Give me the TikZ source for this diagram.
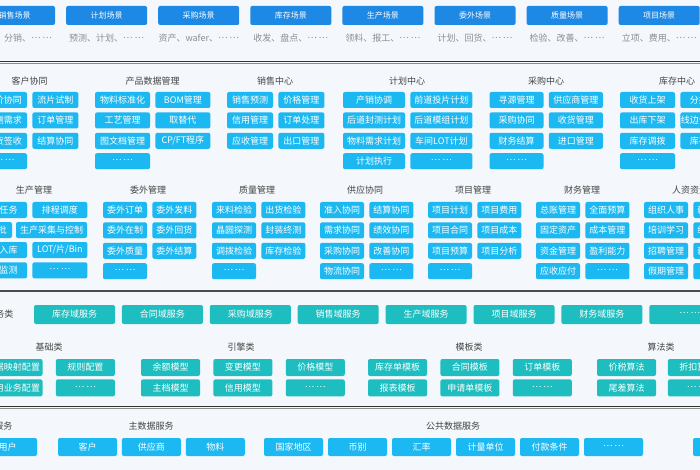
\documentclass[tikz,border=0pt]{standalone}
\usepackage{fontspec}
\setmainfont{Noto Sans CJK SC}
\usetikzlibrary{positioning}
\definecolor{bgcol}{HTML}{F4F7FB}
\definecolor{scenecol}{HTML}{1E88E5}
\definecolor{cellcol}{HTML}{1CB8F2}
\definecolor{svccol}{HTML}{1DBDC0}
\definecolor{titlecol}{HTML}{444444}
\definecolor{notecol}{HTML}{8A8F96}
\newcommand{\ellip}{\raisebox{0.3em}{…\hspace{0.2em}…}}

\begin{document}
\begin{tikzpicture}[
            x=1pt, y=-1pt,
            box/.style={
                rectangle,
                rounded corners=2pt,
                inner sep=0pt,
                text=white,
                font=\fontsize{9}{10}\selectfont
            },
            scene/.style={
                box,
                fill=scenecol,
                minimum width=81pt,
                minimum height=19pt,
                font=\fontsize{8}{9}\selectfont
            },
            cell/.style={
                box,
                fill=cellcol,
                minimum width=46pt,
                minimum height=16pt
            },
            svc/.style={
                box,
                fill=svccol,
                minimum width=81pt,
                minimum height=19pt
            },
            part/.style={
                box,
                fill=svccol,
                minimum width=59pt,
                minimum height=17pt
            },
            base/.style={
                box,
                fill=cellcol,
                minimum width=59pt,
                minimum height=18pt
            },
            title/.style={inner sep=0pt, text=titlecol, font=\fontsize{9}{10}\selectfont},
            note/.style={inner sep=0pt, text=notecol, font=\fontsize{9}{10}\selectfont},
            sep/.style={line width=1.2pt, black!80},
            node distance=4pt and 5pt,
        ]

            \useasboundingbox (0,0) rectangle (700,470);
            \clip (0,0) rectangle (700,470);
            \fill[bgcol] (0,0) rectangle (700,470);

            % scenes
            \node[scene] (sSales) at (14.5,15.5) {销售场景};
            \node[scene, right=10.7pt of sSales] (sPlan) {计划场景};
            \node[scene, right=10.7pt of sPlan] (sBuy) {采购场景};
            \node[scene, right=10.7pt of sBuy] (sStock) {库存场景};
            \node[scene, right=10.7pt of sStock] (sProd) {生产场景};
            \node[scene, right=10.7pt of sProd] (sOut) {委外场景};
            \node[scene, right=10.7pt of sOut] (sQual) {质量场景};
            \node[scene, right=10.7pt of sQual] (sProj) {项目场景};

            \node[note, below=8.5pt of sSales] (nSales) {订单、分销、\ellip};
            \node[note, below=8.5pt of sPlan] (nPlan) {预测、计划、\ellip};
            \node[note, below=8.5pt of sBuy] (nBuy) {资产、wafer、\ellip};
            \node[note, below=8.5pt of sStock] (nStock) {收发、盘点、\ellip};
            \node[note, below=8.5pt of sProd] (nProd) {领料、报工、\ellip};
            \node[note, below=8.5pt of sOut] (nOut) {计划、回货、\ellip};
            \node[note, below=8.5pt of sQual] (nQual) {检验、改善、\ellip};
            \node[note, below=8.5pt of sProj] (nProj) {立项、费用、\ellip};

            \draw[sep] (0,61.5) -- (700,61.5);
            \draw[line width=0.6pt, black!45] (0,63.5) -- (700,63.5);

            % business centers
            \node[title] (tCust) at (29.5,81) {客户协同};
            \node[cell] (cu1) at (4,100) {询价协同};
            \node[cell, below=of cu1] (cu2) {预测需求};
            \node[cell, below=of cu2] (cu3) {到货签收};
            \node[cell, below=of cu3] (cu4) {\ellip};
            \node[cell, right=of cu1] (cu5) {流片试制};
            \node[cell, below=of cu5] (cu6) {订单管理};
            \node[cell, below=of cu6] (cu7) {结算协同};

            \begin{scope}[cell/.append style={minimum width=55pt}]
                \node[title] (tPdm) at (152.5,81) {产品数据管理};
                \node[cell] (pd1) at (122.5,100) {物料标准化};
                \node[cell, below=of pd1] (pd2) {工艺管理};
                \node[cell, below=of pd2] (pd3) {图文档管理};
                \node[cell, below=of pd3] (pd4) {\ellip};
                \node[cell, right=of pd1] (pd5) {BOM管理};
                \node[cell, below=of pd5] (pd6) {取替代};
                \node[cell, below=of pd6] (pd7) {CP/FT程序};
            \end{scope}

            \node[title] (tSale) at (275,81) {销售中心};
            \node[cell] (sa1) at (250,100) {销售预测};
            \node[cell, below=of sa1] (sa2) {信用管理};
            \node[cell, below=of sa2] (sa3) {应收管理};
            \node[cell, right=of sa1] (sa4) {价格管理};
            \node[cell, below=of sa4] (sa5) {订单处理};
            \node[cell, below=of sa5] (sa6) {出口管理};

            \begin{scope}[cell/.append style={minimum width=62pt}]
                \node[title] (tPlan) at (407,81) {计划中心};
                \node[cell] (pl1) at (374,100) {产销协调};
                \node[cell, below=of pl1] (pl2) {后道封测计划};
                \node[cell, below=of pl2] (pl3) {物料需求计划};
                \node[cell, below=of pl3] (pl4) {计划执行};
                \node[cell, right=of pl1] (pl5) {前道投片计划};
                \node[cell, below=of pl5] (pl6) {后道模组计划};
                \node[cell, below=of pl6] (pl7) {车间LOT计划};
                \node[cell, below=of pl7] (pl8) {\ellip};
            \end{scope}

            \begin{scope}[cell/.append style={minimum width=54pt}]
                \node[title] (tBuy) at (546,81) {采购中心};
                \node[cell] (bu1) at (516.5,100) {寻源管理};
                \node[cell, below=of bu1] (bu2) {采购协同};
                \node[cell, below=of bu2] (bu3) {财务结算};
                \node[cell, below=of bu3] (bu4) {\ellip};
                \node[cell, right=of bu1] (bu5) {供应商管理};
                \node[cell, below=of bu5] (bu6) {收货管理};
                \node[cell, below=of bu6] (bu7) {进口管理};
            \end{scope}

            \begin{scope}[cell/.append style={minimum width=55pt}]
                \node[title] (tStock) at (677,81) {库存中心};
                \node[cell] (st1) at (647.5,100) {收货上架};
                \node[cell, below=of st1] (st2) {出库下架};
                \node[cell, below=of st2] (st3) {库存调拨};
                \node[cell, below=of st3] (st4) {\ellip};
                \node[cell, right=of st1] (st5) {分拣管理};
                \node[cell, below=of st5] (st6) {线边仓库管理};
                \node[cell, below=of st6] (st7) {库存盘点};
            \end{scope}

            % management
            \begin{scope}[cell/.append style={minimum width=55pt}]
                \node[title] (tMake) at (34,190) {生产管理};
                \node[cell] (mk1) at (-0.5,210) {生产任务};
                \node[cell] (mk2) at (-15.5,230) {工单拆合批};
                \node[cell] (mk3) at (-0.5,250) {完工入库};
                \node[cell, below=of mk3] (mk4) {设备监测};
                \node[cell, right=of mk1] (mk5) {排程调度};
                \node[cell, minimum width=71pt] (mk6) at (51.5,230) {生产采集与控制};
                \node[cell, right=of mk3] (mk7) {LOT/片/Bin};
                \node[cell, below=of mk7] (mk8) {\ellip};
            \end{scope}

            \begin{scope}[cell/.append style={minimum width=44pt}]
                \node[title] (tOut) at (148,190) {委外管理};
                \node[cell] (ou1) at (125,210) {委外订单};
                \node[cell, below=of ou1] (ou2) {委外在制};
                \node[cell, below=of ou2] (ou3) {委外质量};
                \node[cell, below=of ou3] (ou4) {\ellip};
                \node[cell, right=of ou1] (ou5) {委外发料};
                \node[cell, below=of ou5] (ou6) {委外回货};
                \node[cell, below=of ou6] (ou7) {委外结算};

                \node[title] (tQual) at (257,190) {质量管理};
                \node[cell] (qu1) at (234,210) {来料检验};
                \node[cell, below=of qu1] (qu2) {晶圆探测};
                \node[cell, below=of qu2] (qu3) {调拨检验};
                \node[cell, below=of qu3] (qu4) {\ellip};
                \node[cell, right=of qu1] (qu5) {出货检验};
                \node[cell, below=of qu5] (qu6) {封装终测};
                \node[cell, below=of qu6] (qu7) {库存检验};

                \node[title] (tSup) at (365,190) {供应协同};
                \node[cell] (su1) at (342,210) {准入协同};
                \node[cell, below=of su1] (su2) {需求协同};
                \node[cell, below=of su2] (su3) {采购协同};
                \node[cell, below=of su3] (su4) {物流协同};
                \node[cell, right=of su1] (su5) {结算协同};
                \node[cell, below=of su5] (su6) {绩效协同};
                \node[cell, below=of su6] (su7) {改善协同};
                \node[cell, below=of su7] (su8) {\ellip};

                \node[title] (tProj) at (473,190) {项目管理};
                \node[cell] (pj1) at (450,210) {项目计划};
                \node[cell, below=of pj1] (pj2) {项目合同};
                \node[cell, below=of pj2] (pj3) {项目预算};
                \node[cell, below=of pj3] (pj4) {\ellip};
                \node[cell, right=of pj1] (pj5) {项目费用};
                \node[cell, below=of pj5] (pj6) {项目成本};
                \node[cell, below=of pj6] (pj7) {项目分析};

                \node[title] (tFin) at (582,190) {财务管理};
                \node[cell] (fi1) at (558,210) {总账管理};
                \node[cell, below=of fi1] (fi2) {固定资产};
                \node[cell, below=of fi2] (fi3) {资金管理};
                \node[cell, below=of fi3] (fi4) {应收应付};
                \node[cell, right=of fi1] (fi5) {全面预算};
                \node[cell, below=of fi5] (fi6) {成本管理};
                \node[cell, below=of fi6] (fi7) {盈利能力};
                \node[cell, below=of fi7] (fi8) {\ellip};

                \node[title] (tHr) at (690,190) {人资资源};
                \node[cell] (hr1) at (666,210) {组织人事};
                \node[cell, below=of hr1] (hr2) {培训学习};
                \node[cell, below=of hr2] (hr3) {招聘管理};
                \node[cell, below=of hr3] (hr4) {假期管理};
                \node[cell, right=of hr1] (hr5) {薪资福利};
                \node[cell, below=of hr5] (hr6) {绩效考核};
                \node[cell, below=of hr6] (hr7) {薪酬核算};
                \node[cell, below=of hr7] (hr8) {\ellip};
            \end{scope}

            \draw[line width=1.3pt, black!70] (0,291) -- (700,291);

            % services
            \node[title, anchor=east] (tSvc) at (13.5,314.5) {领域服务类};
            \node[svc] (v1) at (74.5,314.5) {库存域服务};
            \node[svc, right=6.5pt of v1] (v2) {合同域服务};
            \node[svc, right=6.5pt of v2] (v3) {采购域服务};
            \node[svc, right=6.5pt of v3] (v4) {销售域服务};
            \node[svc, right=6.5pt of v4] (v5) {生产域服务};
            \node[svc, right=6.5pt of v5] (v6) {项目域服务};
            \node[svc, right=6.5pt of v6] (v7) {财务域服务};
            \node[svc, right=6.5pt of v7] (v8) {\ellip};

            \begin{scope}[node distance=3pt and 13pt]
                \node[title] (tBase) at (49,347) {基础类};
                \node[part] (ba1) at (13,367.5) {数据映射配置};
                \node[part, below=of ba1] (ba2) {通用业务配置};
                \node[part, right=of ba1] (ba3) {规则配置};
                \node[part, below=of ba3] (ba4) {\ellip};

                \node[title] (tEng) at (241,347) {引擎类};
                \node[part] (en1) at (170.5,367.5) {余额模型};
                \node[part, below=of en1] (en2) {主档模型};
                \node[part, right=of en1] (en3) {变更模型};
                \node[part, below=of en3] (en4) {信用模型};
                \node[part, right=of en3] (en5) {价格模型};
                \node[part, below=of en5] (en6) {\ellip};

                \node[title] (tTpl) at (469,347) {模板类};
                \node[part] (tp1) at (397.5,367.5) {库存单模板};
                \node[part, below=of tp1] (tp2) {报表模板};
                \node[part, right=of tp1] (tp3) {合同模板};
                \node[part, below=of tp3] (tp4) {申请单模板};
                \node[part, right=of tp3] (tp5) {订单模板};
                \node[part, below=of tp5] (tp6) {\ellip};

                \node[title] (tAlg) at (661,347) {算法类};
                \node[part] (al1) at (626.5,367.5) {价税算法};
                \node[part, below=of al1] (al2) {尾差算法};
                \node[part, right=11.5pt of al1] (al3) {折扣算法};
                \node[part, below=of al3] (al4) {\ellip};
            \end{scope}

            \draw[sep] (0,406.2) -- (700,406.2);
            \draw[line width=0.6pt, black!45] (0,408.2) -- (700,408.2);

            % data services
            \node[title, anchor=east] (tUser) at (12.5,426) {用户服务};
            \node[base] (us1) at (7.5,447) {用户};

            \node[title] (tMaster) at (151,426) {主数据服务};
            \node[base] (ma1) at (87.5,447) {客户};
            \node[base, right=4.5pt of ma1] (ma2) {供应商};
            \node[base, right=4.5pt of ma2] (ma3) {物料};

            \node[title] (tPub) at (453,426) {公共数据服务};
            \node[base] (pu1) at (293.5,447) {国家地区};
            \node[base, right=4.6pt of pu1] (pu2) {币别};
            \node[base, right=4.6pt of pu2] (pu3) {汇率};
            \node[base, right=4.6pt of pu3] (pu4) {计量单位};
            \node[base, right=4.6pt of pu4] (pu5) {付款条件};
            \node[base, right=4.6pt of pu5] (pu6) {\ellip};

            \node[base] (ot1) at (722.5,447) {组织};
        \end{tikzpicture}
\end{document}
